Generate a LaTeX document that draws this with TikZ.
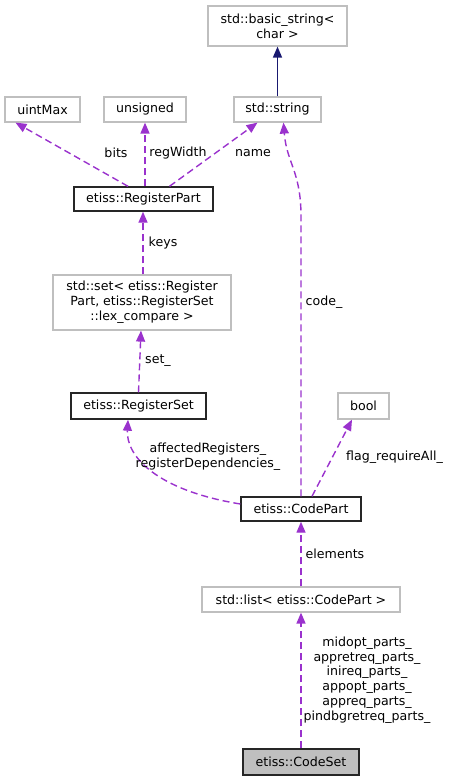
\documentclass[tikz,border=0pt]{standalone}
\usepackage{fontspec}
\setmainfont{DejaVu Sans}
\usetikzlibrary{arrows.meta}
\definecolor{edgepurple}{HTML}{9A32CD}
\definecolor{edgenavy}{HTML}{191970}
\definecolor{boxgrey}{HTML}{BFBFBF}

\begin{document}
\begin{tikzpicture}[x=1pt, y=-1pt, >={Triangle[length=11pt,width=9pt]},
    every node/.style={font=\fontsize{12.6}{15}\selectfont},
    ext/.style={draw=boxgrey, line width=1.2pt, inner sep=0pt, align=center},
    cls/.style={draw=black!85, line width=1.4pt, inner sep=0pt, align=center},
    dep/.style={->, color=edgepurple, line width=1.4pt, dash pattern=on 7pt off 4pt},
    inh/.style={->, color=edgenavy, line width=1.4pt},
    lbl/.style={inner sep=0pt, align=center, text=black}]
    \useasboundingbox (0,0) rectangle (451,781);

    % external types
    \node[ext, minimum width=139, minimum height=40] (bstr) at (277.5,26) {std::basic\_string<\\char >};
    \node[ext, minimum width=75, minimum height=25] (umax) at (42.5,109.5) {uintMax};
    \node[ext, minimum width=82, minimum height=25] (unsig) at (145,109.5) {unsigned};
    \node[ext, minimum width=87, minimum height=25] (sstr) at (277.5,109.5) {std::string};
    \node[ext, minimum width=178, minimum height=55] (rset3) at (142,302.5) {std::set< etiss::Register\\Part, etiss::RegisterSet\\::lex\_compare >};
    \node[ext, minimum width=51, minimum height=26] (bool) at (363.5,406) {bool};
    \node[ext, minimum width=198, minimum height=25] (clist) at (301,599.5) {std::list< etiss::CodePart >};

    % documented classes
    \node[cls, minimum width=139, minimum height=24] (rpart) at (143.5,199) {etiss::RegisterPart};
    \node[cls, minimum width=135, minimum height=26] (rset) at (138.5,406) {etiss::RegisterSet};
    \node[cls, minimum width=120, minimum height=24] (cpart) at (301,509) {etiss::CodePart};
    \node[cls, fill=boxgrey, minimum width=116, minimum height=26] (cset) at (301,762) {etiss::CodeSet};

    % inheritance
    \draw[inh] (sstr.north) -- (bstr.south);

    % member relations
    \draw[dep] ([xshift=-15.5pt]rpart.north) -- ([xshift=-27pt]umax.south);
    \draw[dep] (rpart.north -| unsig.south) -- (unsig.south);
    \draw[dep] ([xshift=26pt]rpart.north) -- ([xshift=-20pt]sstr.south);
    \draw[dep] ([xshift=-0.5pt]rset3.north -| rpart.south) -- ([xshift=-0.5pt]rpart.south);
    \draw[dep] (rset.north) -- ([xshift=-1pt]rset3.south);
    \draw[dep] (cpart.north) -- ++(0,-280) .. controls +(0,-45) and +(3,40) .. ([xshift=6pt]sstr.south);
    \draw[dep] ([yshift=5pt]cpart.west) .. controls +(-85,-14) and +(-2,36) .. ([xshift=-10.5pt]rset.south);
    \draw[dep] ([xshift=11pt]cpart.north) -- ([xshift=-11.5pt]bool.south);
    \draw[dep] (clist.north) -- (cpart.south);
    \draw[dep] (cset.north) -- (clist.south);

    % labels
    \node[lbl] (lbits) at (116,153) {bits};
    \node[lbl] (lregw) at (178,153) {regWidth};
    \node[lbl] (lname) at (253,153) {name};
    \node[lbl] (lkeys) at (163,243) {keys};
    \node[lbl] (lcode) at (324,302) {code\_};
    \node[lbl] (lset) at (158,361) {set\_};
    \node[lbl] (laffect) at (208,457) {affectedRegisters\_\\registerDependencies\_};
    \node[lbl] (lflag) at (394.5,457) {flag\_requireAll\_};
    \node[lbl] (lelem) at (335,554) {elements};
    \node[lbl, font=\fontsize{12.6}{14.7}\selectfont] (lparts) at (367,680) {midopt\_parts\_\\appretreq\_parts\_\\inireq\_parts\_\\appopt\_parts\_\\appreq\_parts\_\\pindbgretreq\_parts\_};
\end{tikzpicture}
\end{document}
